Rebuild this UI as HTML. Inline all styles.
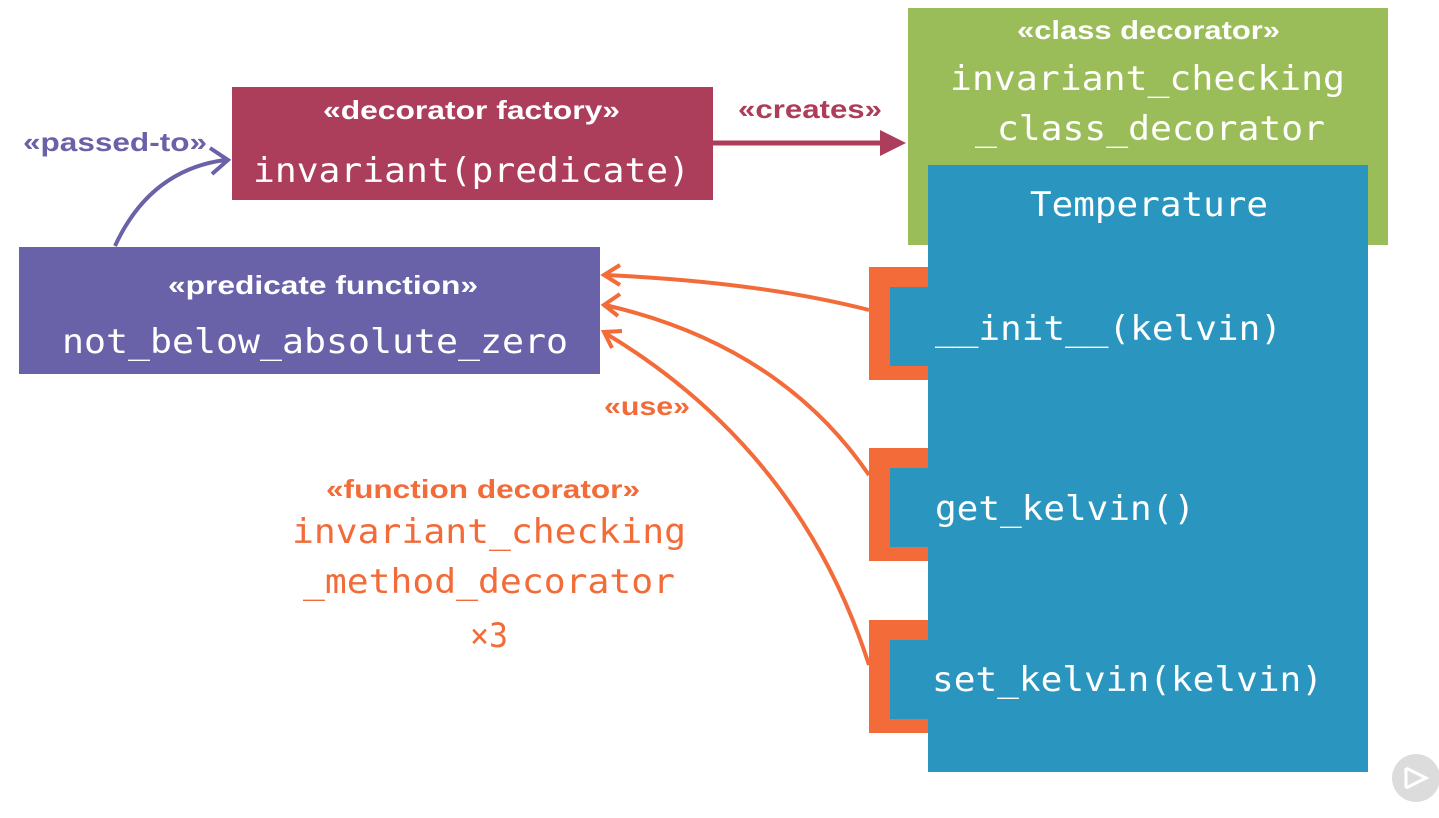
<!DOCTYPE html>
<html><head><meta charset="utf-8"><style>
html,body{margin:0;padding:0;background:#fff;}
svg{display:block}
.s{font-family:"Liberation Sans",sans-serif;font-weight:bold;}
.m{font-family:"DejaVu Sans Mono","Liberation Mono",monospace;}
</style></head><body>
<svg width="1439" height="818" viewBox="0 0 1439 818" xmlns="http://www.w3.org/2000/svg">
<!-- green -->
<rect x="908" y="8" width="480" height="237" fill="#9bbd59"/>
<text x="1017" y="39" class="s" font-size="26" fill="#fff" textLength="263" lengthAdjust="spacingAndGlyphs">«class decorator»</text>
<text x="950" y="90" class="m" font-size="34" fill="#fff" textLength="395" lengthAdjust="spacingAndGlyphs">invariant_checking</text>
<text x="975" y="140" class="m" font-size="34" fill="#fff" textLength="350" lengthAdjust="spacingAndGlyphs">_class_decorator</text>
<!-- blue -->
<rect x="928" y="165" width="440" height="607" fill="#2a96bf"/>
<text x="1030" y="216" class="m" font-size="34" fill="#fff" textLength="238" lengthAdjust="spacingAndGlyphs">Temperature</text>
<!-- brackets -->
<g fill="#f26b38">
<rect x="869" y="267" width="59" height="113"/>
<rect x="869" y="448" width="59" height="113"/>
<rect x="869" y="620" width="59" height="113"/>
</g>
<g fill="#2a96bf">
<rect x="890" y="287" width="40" height="79"/>
<rect x="890" y="468" width="40" height="79"/>
<rect x="890" y="640" width="40" height="79"/>
</g>
<text x="935" y="340" class="m" font-size="34" fill="#fff" textLength="347" lengthAdjust="spacingAndGlyphs">__init__(kelvin)</text>
<text x="935" y="520" class="m" font-size="34" fill="#fff" textLength="260" lengthAdjust="spacingAndGlyphs">get_kelvin()</text>
<text x="932" y="691" class="m" font-size="34" fill="#fff" textLength="391" lengthAdjust="spacingAndGlyphs">set_kelvin(kelvin)</text>
<!-- red -->
<rect x="232" y="87" width="481" height="113" fill="#ac3d5b"/>
<text x="323" y="119" class="s" font-size="26" fill="#fff" textLength="297" lengthAdjust="spacingAndGlyphs">«decorator factory»</text>
<text x="253" y="182" class="m" font-size="34" fill="#fff" textLength="437" lengthAdjust="spacingAndGlyphs">invariant(predicate)</text>
<line x1="713" y1="143" x2="885" y2="143" stroke="#ac3d5b" stroke-width="5"/>
<path d="M880 130 L906 143 L880 156 Z" fill="#ac3d5b"/>
<text x="738" y="118" class="s" font-size="26" fill="#ac3d5b" textLength="144" lengthAdjust="spacingAndGlyphs">«creates»</text>
<!-- purple -->
<rect x="19" y="247" width="581" height="127" fill="#6a62a8"/>
<text x="168" y="294" class="s" font-size="26" fill="#fff" textLength="310" lengthAdjust="spacingAndGlyphs">«predicate function»</text>
<text x="62" y="353" class="m" font-size="34" fill="#fff" textLength="506" lengthAdjust="spacingAndGlyphs">not_below_absolute_zero</text>
<path d="M115 246 Q150 170 225 160" fill="none" stroke="#6a62a8" stroke-width="4"/>
<path d="M210 148 L228 160 L212 174" fill="none" stroke="#6a62a8" stroke-width="4"/>
<text x="23" y="151" class="s" font-size="26" fill="#6a62a8" textLength="184" lengthAdjust="spacingAndGlyphs">«passed-to»</text>
<!-- orange arrows -->
<g fill="none" stroke="#f26b38" stroke-width="4">
<path d="M869 310 Q760 282 605 275"/>
<path d="M869 475 Q780 345 605 305"/>
<path d="M869 665 Q800 450 605 333"/>
<path d="M620 265 L604 275 L620 285"/>
<path d="M620 294 L604 305 L618 316"/>
<path d="M622 331 L604 332 L612 348"/>
</g>
<text x="604" y="415" class="s" font-size="26" fill="#f26b38" textLength="86" lengthAdjust="spacingAndGlyphs">«use»</text>
<text x="326" y="498" class="s" font-size="26" fill="#f26b38" textLength="314" lengthAdjust="spacingAndGlyphs">«function decorator»</text>
<text x="292" y="543" class="m" font-size="34" fill="#f26b38" textLength="394" lengthAdjust="spacingAndGlyphs">invariant_checking</text>
<text x="303" y="593" class="m" font-size="34" fill="#f26b38" textLength="372" lengthAdjust="spacingAndGlyphs">_method_decorator</text>
<text x="470" y="647" class="m" font-size="34" fill="#f26b38" textLength="38" lengthAdjust="spacingAndGlyphs">×3</text>
<!-- play badge -->
<circle cx="1416" cy="778" r="24" fill="#dcdcdc"/>
<path d="M1406 768 L1406 788 M1406 768 L1426 778 L1406 788" fill="none" stroke="#fff" stroke-width="3"/>
</svg>
</body></html>
